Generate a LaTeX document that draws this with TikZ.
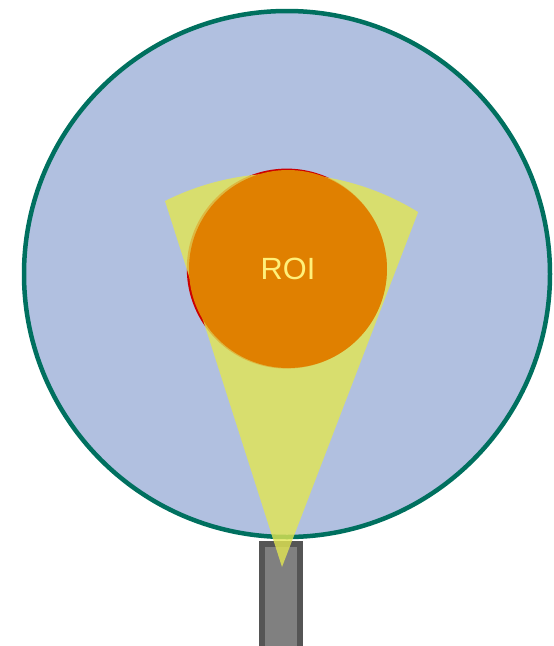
\documentclass[tikz,border=0pt]{standalone}
\usepackage{fontspec}
\setmainfont{Liberation Sans}
\usepackage{xcolor}
\usepackage{tikz}

\definecolor{rangefill}{HTML}{B1C0E0}
\definecolor{rangedraw}{HTML}{00705F}
\definecolor{beamfill}{HTML}{E2E652}
\definecolor{roifill}{HTML}{E08000}
\definecolor{roidraw}{HTML}{CC0000}
\definecolor{roitext}{HTML}{FFF07A}
\definecolor{postfill}{HTML}{808080}
\definecolor{postdraw}{HTML}{555555}

\begin{document}
\begin{tikzpicture}[
    x=1pt, y=-1pt,
    rangearea/.style={fill=rangefill, draw=rangedraw, line width=4.5pt},
    postbox/.style={fill=postfill, draw=postdraw, line width=6pt},
    beamarea/.style={fill=beamfill, fill opacity=0.8},
    roiarea/.style={fill=roifill},
    roiedge/.style={fill=roidraw},
    roitextstyle/.style={text=roitext, font=\fontsize{30.7}{32}\selectfont, inner sep=0pt}
]
\useasboundingbox (0,0) rectangle (554,646);

\coordinate (rangec) at (287,274);
\coordinate (roic) at (288,269);
\coordinate (apex) at (282,567);
\coordinate (beamleft) at (165,201);

% sensing range
\draw[rangearea] (rangec) circle[radius=263];

% mounting post
\draw[postbox] (262,543.7) rectangle (300,652);

% region of interest, edge
\fill[roiedge] (286.8,268.6) circle[radius=100];

% sensor beam
\fill[beamarea] (apex) -- (beamleft) arc[start angle=-116.6, end angle=-58.4, radius=260.5] -- cycle;

% region of interest
\fill[roiarea] (roic) circle[radius=99];
\node[roitextstyle] (roilabel) at (roic) {ROI};
\end{tikzpicture}
\end{document}
